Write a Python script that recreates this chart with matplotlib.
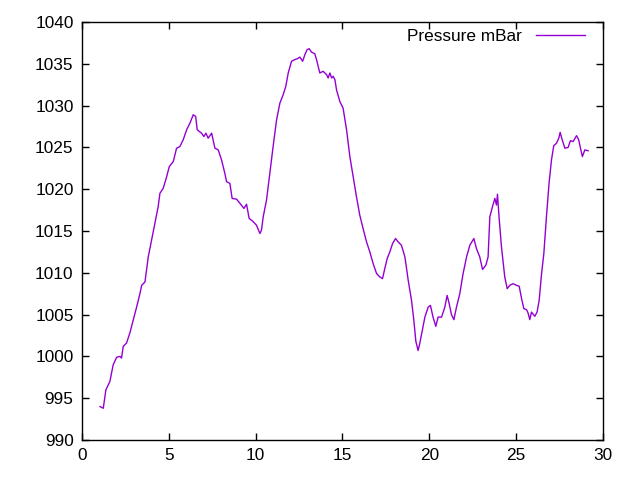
import numpy as np
import matplotlib.pyplot as plt

# time (x) and pressure in mBar
time_x = [1.04, 1.23, 1.38, 1.61, 1.80, 2.00, 2.19, 2.28, 2.38, 2.57, 2.76, 2.96,
          3.15, 3.34, 3.44, 3.63, 3.82, 4.01, 4.20, 4.39, 4.49, 4.68, 4.88, 5.03,
          5.26, 5.45, 5.64, 5.83, 6.03, 6.22, 6.41, 6.55, 6.64, 6.89, 7.02, 7.14,
          7.27, 7.47, 7.66, 7.85, 8.04, 8.23, 8.33, 8.52, 8.65, 8.91, 9.10, 9.33,
          9.48, 9.63, 9.82, 10.05, 10.25, 10.34, 10.44, 10.63, 10.82, 11.01, 11.21,
          11.40, 11.59, 11.74, 11.88, 12.07, 12.26, 12.40, 12.55, 12.71, 12.84,
          12.97, 13.09, 13.22, 13.41, 13.51, 13.70, 13.89, 14.09, 14.18, 14.28,
          14.38, 14.47, 14.57, 14.66, 14.85, 15.04, 15.24, 15.43, 15.62, 15.81,
          16.00, 16.19, 16.39, 16.58, 16.77, 16.97, 17.16, 17.31, 17.44, 17.58,
          17.73, 17.89, 18.06, 18.21, 18.40, 18.60, 18.79, 18.98, 19.11, 19.23,
          19.36, 19.46, 19.61, 19.75, 19.94, 20.07, 20.22, 20.38, 20.51, 20.71,
          20.90, 21.03, 21.15, 21.28, 21.42, 21.57, 21.76, 21.95, 22.15, 22.34,
          22.57, 22.72, 22.91, 23.07, 23.26, 23.39, 23.49, 23.64, 23.78, 23.87,
          23.93, 24.02, 24.16, 24.35, 24.49, 24.64, 24.83, 25.03, 25.18, 25.32,
          25.45, 25.60, 25.69, 25.79, 25.89, 26.08, 26.21, 26.33, 26.47, 26.60,
          26.75, 26.90, 27.04, 27.17, 27.33, 27.46, 27.54, 27.63, 27.81, 28.00,
          28.13, 28.29, 28.48, 28.61, 28.73, 28.82, 28.96, 29.15]
pressure = [994.0, 993.8, 996.0, 997.0, 999.0, 999.9, 1000.0, 999.8, 1001.2, 1001.6,
            1002.8, 1004.4, 1005.9, 1007.5, 1008.5, 1008.9, 1011.9, 1013.9, 1015.9,
            1017.9, 1019.5, 1020.1, 1021.5, 1022.7, 1023.3, 1024.9, 1025.1, 1025.9,
            1027.1, 1027.9, 1028.9, 1028.7, 1027.1, 1026.7, 1026.3, 1026.7, 1026.1,
            1026.7, 1024.9, 1024.7, 1023.5, 1021.9, 1020.9, 1020.7, 1018.9, 1018.8,
            1018.3, 1017.7, 1018.2, 1016.5, 1016.2, 1015.7, 1014.7, 1015.1, 1016.7,
            1018.7, 1021.9, 1025.1, 1028.3, 1030.3, 1031.3, 1032.3, 1033.9, 1035.3,
            1035.5, 1035.6, 1035.8, 1035.3, 1036.1, 1036.7, 1036.8, 1036.4, 1036.2,
            1035.5, 1033.9, 1034.1, 1033.7, 1033.3, 1033.9, 1033.3, 1033.5, 1033.1,
            1031.9, 1030.5, 1029.7, 1027.1, 1023.9, 1021.5, 1019.1, 1016.9, 1015.3,
            1013.7, 1012.5, 1011.1, 1009.9, 1009.5, 1009.3, 1010.5, 1011.7, 1012.5,
            1013.5, 1014.1, 1013.7, 1013.3, 1011.9, 1009.1, 1006.7, 1004.4, 1001.8,
            1000.7, 1001.6, 1003.2, 1004.7, 1005.9, 1006.1, 1004.7, 1003.6, 1004.7,
            1004.7, 1005.9, 1007.3, 1006.3, 1005.0, 1004.4, 1005.9, 1007.5, 1009.9,
            1011.9, 1013.3, 1014.1, 1012.9, 1011.9, 1010.4, 1010.9, 1011.9, 1016.7,
            1017.9, 1018.9, 1018.1, 1019.4, 1016.7, 1013.1, 1009.5, 1008.1, 1008.5,
            1008.7, 1008.5, 1008.4, 1006.9, 1005.7, 1005.6, 1005.2, 1004.4, 1005.3,
            1004.8, 1005.3, 1006.7, 1009.9, 1012.3, 1016.7, 1020.7, 1023.5, 1025.2,
            1025.5, 1026.1, 1026.8, 1026.1, 1024.9, 1025.0, 1025.8, 1025.7, 1026.4,
            1025.9, 1024.7, 1023.9, 1024.7, 1024.6]

plt.rcParams['font.family'] = ['Liberation Sans', 'DejaVu Sans']

fig = plt.figure(figsize=(6.4, 4.8), dpi=100)
ax = fig.add_axes([0.128, 0.0833, 0.814, 0.8709])

ax.plot(time_x, pressure, color='#9400d3', linewidth=1, label='Pressure mBar')

ax.set_xlim(0, 30)
ax.set_ylim(990, 1040)
ax.set_xticks(np.arange(0, 31, 5))
ax.set_yticks(np.arange(990, 1041, 5))
ax.tick_params(direction='in', top=True, right=True, length=5, width=1,
               labelsize=12.4, colors='black', pad=6)
for s in ax.spines.values():
    s.set_linewidth(1)

leg = ax.legend(loc='upper right', bbox_to_anchor=(0.979, 1.0), frameon=False,
                markerfirst=False, fontsize=12.4, handlelength=2.85,
                handletextpad=0.8, borderaxespad=0)

fig.savefig('out.png', dpi=100)
